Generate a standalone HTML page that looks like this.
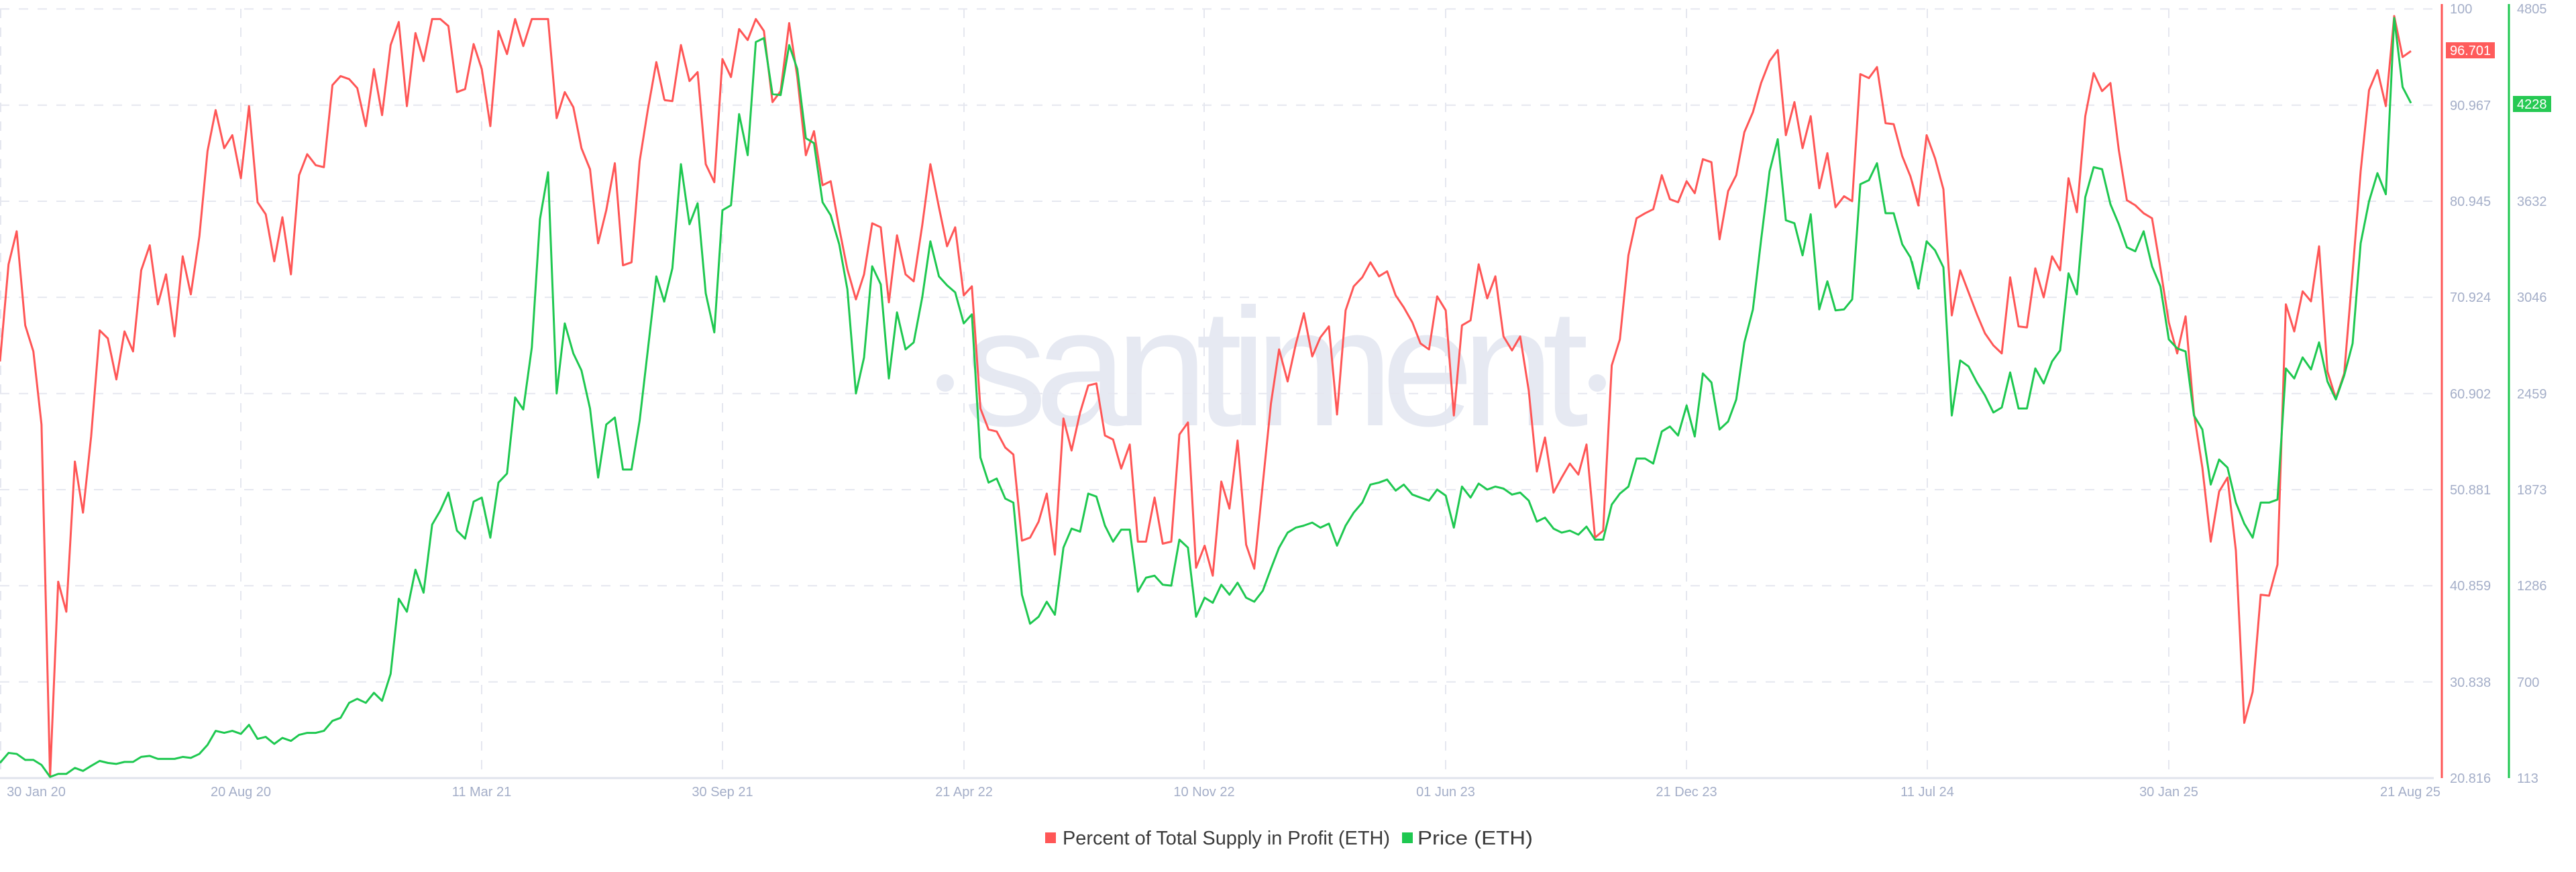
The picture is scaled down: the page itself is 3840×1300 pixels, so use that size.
<!DOCTYPE html>
<html><head><meta charset="utf-8"><style>
html,body{margin:0;padding:0;background:#fff;}
svg{display:block;}
text{font-family:"Liberation Sans",sans-serif;}
</style></head><body>
<svg width="3840" height="1300" viewBox="0 0 3840 1300" xmlns="http://www.w3.org/2000/svg">
<g fill="#e6e9f2">
<circle cx="1409" cy="571" r="13"/>
<text x="1437" y="634" font-size="250" letter-spacing="-18" textLength="913" lengthAdjust="spacingAndGlyphs">santiment</text>
<circle cx="2381" cy="571" r="13"/>
</g>
<g stroke="#e5e7ef" stroke-width="2" stroke-dasharray="14 14">
<line x1="0" y1="13.4" x2="3628" y2="13.4"/>
<line x1="0" y1="156.7" x2="3628" y2="156.7"/>
<line x1="0" y1="300" x2="3628" y2="300"/>
<line x1="0" y1="443.3" x2="3628" y2="443.3"/>
<line x1="0" y1="586.7" x2="3628" y2="586.7"/>
<line x1="0" y1="730" x2="3628" y2="730"/>
<line x1="0" y1="873.3" x2="3628" y2="873.3"/>
<line x1="0" y1="1016.6" x2="3628" y2="1016.6"/>
</g>
<g stroke="#e5e7ef" stroke-width="2" stroke-dasharray="14 14">
<line x1="1" y1="13" x2="1" y2="1160"/>
<line x1="359" y1="13" x2="359" y2="1160"/>
<line x1="718" y1="13" x2="718" y2="1160"/>
<line x1="1077" y1="13" x2="1077" y2="1160"/>
<line x1="1437" y1="13" x2="1437" y2="1160"/>
<line x1="1795" y1="13" x2="1795" y2="1160"/>
<line x1="2155" y1="13" x2="2155" y2="1160"/>
<line x1="2514" y1="13" x2="2514" y2="1160"/>
<line x1="2873" y1="13" x2="2873" y2="1160"/>
<line x1="3233" y1="13" x2="3233" y2="1160"/>
</g>
<line x1="0" y1="1160" x2="3628" y2="1160" stroke="#e0e3ec" stroke-width="3"/>
<g fill="none" stroke="#ff5656" stroke-width="3" stroke-linejoin="round">
<polyline vector-effect="non-scaling-stroke" transform="scale(0.6378,0.7463)" points="0,722 20,528 39,462 59,650 78,702 97,848 117,1552 136,1162 155,1222 175,922 194,1024 213,872 233,660 252,676 272,758 291,662 311,702 330,540 350,490 369,608 388,548 408,672 427,512 446,588 466,472 485,302 504,220 524,296 543,270 563,356 582,212 602,404 621,428 641,522 660,434 680,548 699,350 718,308 738,330 757,334 777,170 796,152 816,158 835,176 855,252 874,138 893,230 913,90 932,44 951,212 971,66 990,122 1010,38 1029,38 1048,52 1068,184 1087,178 1107,88 1126,138 1146,252 1165,62 1185,108 1204,38 1223,92 1243,38 1262,38 1281,38 1301,236 1320,184 1340,214 1359,296 1379,338 1398,486 1417,420 1437,326 1456,530 1476,524 1495,322 1514,220 1534,124 1553,200"/>
<polyline vector-effect="non-scaling-stroke" transform="translate(950,0) scale(0.6378,0.7463)" points="63,200 82,202 102,90 122,162 141,144 160,328 180,364 199,118 219,154 238,58 258,80 277,38 296,62 316,204 335,182 355,46 374,154 394,310 413,262 433,370 452,362 472,456 491,538 511,598 530,548 549,446 569,454 588,604 607,470 627,548 646,562 666,450 685,328 705,414 724,492 743,454 763,590 782,572 802,816 821,858 840,862 860,894 879,908 899,1080 918,1074 938,1042 957,986 976,1108 996,836 1015,900 1035,824 1054,770 1073,766 1093,870 1112,878 1131,936 1151,888 1170,1082 1189,1082 1209,994 1228,1086 1248,1082 1267,868 1287,844 1306,1134 1326,1090 1345,1150 1365,962 1384,1016 1403,880 1423,1088 1442,1136 1462,966 1481,806 1500,698 1520,762 1539,688 1558,626"/>
<polyline vector-effect="non-scaling-stroke" transform="translate(1900,0) scale(0.6378,0.7463)" points="68,624 88,712 107,674 127,652 146,828 166,620 185,572 205,554 224,524 244,552 263,542 283,590 302,614 322,644 341,686 361,698 380,592 400,620 419,830 438,650 458,640 477,528 497,596 516,552 535,672 555,700 574,672 594,780 613,942 632,874 652,984 671,954 690,926 710,948 729,888 749,1074 768,1060 788,730 807,678 827,510 846,436 866,426 885,418 905,350 924,398 943,404 963,362 982,386 1001,318 1021,324 1040,478 1060,382 1079,350 1098,264 1118,224 1137,166 1157,122 1176,100 1195,270 1215,204 1234,296 1253,232 1273,376 1292,306 1311,414 1331,392 1350,402 1369,148 1389,156 1408,134 1428,246 1447,248 1467,312 1486,352 1506,412"/>
<polyline vector-effect="non-scaling-stroke" transform="translate(2850,0) scale(0.5,0.7463)" points="0,362 19,410 44,270 69,316 94,378 119,630 144,540 169,584 194,628 218,666 243,690 268,706 293,554 318,652 343,654 368,536 393,594 418,512 442,540 467,356 492,424 517,232 542,146 567,182 592,166 617,300 641,400 666,410 691,426 716,436 741,536 766,644 791,706 816,632 841,826 866,934 891,1082 916,982 941,954 966,1100 991,1444 1016,1382 1040,1188 1065,1190 1090,1128 1115,608 1140,662 1165,582 1190,602 1214,492 1239,742 1264,796 1289,746 1314,544 1338,342 1363,180 1388,140 1413,212 1438,32 1463,114 1488,102"/>
</g>
<g fill="none" stroke="#1ec850" stroke-width="3" stroke-linejoin="round">
<polyline vector-effect="non-scaling-stroke" transform="scale(0.6378,0.7463)" points="0,1524 20,1504 39,1506 59,1518 78,1518 97,1528 117,1552 136,1546 155,1546 175,1534 194,1540 213,1530 233,1520 252,1524 272,1526 291,1522 311,1522 330,1512 350,1510 369,1516 388,1516 408,1516 427,1512 446,1514 466,1506 485,1488 504,1460 524,1464 543,1460 563,1466 582,1448 602,1476 621,1472 641,1486 660,1474 680,1480 699,1468 718,1464 738,1464 757,1460 777,1440 796,1434 816,1404 835,1396 855,1404 874,1384 893,1400 913,1346 932,1196 951,1222 971,1138 990,1184 1010,1048 1029,1020 1048,984 1068,1060 1087,1076 1107,1002 1126,994 1146,1074 1165,964 1185,946 1204,794 1223,818 1243,694 1262,438 1281,344 1301,786 1320,646 1340,706 1359,740 1379,816 1398,954 1417,848 1437,834 1456,938 1476,938 1495,840 1514,700 1534,552 1553,604"/>
<polyline vector-effect="non-scaling-stroke" transform="translate(950,0) scale(0.6378,0.7463)" points="63,602 82,536 102,328 122,448 141,406 160,586 180,664 199,420 219,410 238,228 258,310 277,84 296,76 316,188 335,190 355,90 374,138 394,276 413,286 433,404 452,430 472,488 491,578 511,786 530,714 549,532 569,568 588,756 607,624 627,698 646,684 666,594 685,482 705,552 724,570 743,584 763,646 782,628 802,914 821,964 840,956 860,996 879,1004 899,1188 918,1246 938,1232 957,1202 976,1228 996,1094 1015,1056 1035,1062 1054,986 1073,992 1093,1050 1112,1082 1131,1058 1151,1058 1170,1182 1189,1154 1209,1150 1228,1168 1248,1170 1267,1078 1287,1094 1306,1232 1326,1194 1345,1204 1365,1168 1384,1188 1403,1164 1423,1194 1442,1202 1462,1180 1481,1136 1500,1094 1520,1064 1539,1054 1558,1050"/>
<polyline vector-effect="non-scaling-stroke" transform="translate(1900,0) scale(0.6378,0.7463)" points="68,1050 88,1044 107,1054 127,1046 146,1090 166,1050 185,1024 205,1004 224,968 244,964 263,958 283,980 302,968 322,988 341,994 361,1000 380,978 400,990 419,1054 438,972 458,994 477,966 497,978 516,972 535,976 555,988 574,984 594,1000 613,1042 632,1034 652,1056 671,1064 690,1060 710,1068 729,1052 749,1078 768,1078 788,1008 807,986 827,972 846,916 866,916 885,926 905,862 924,852 943,870 963,810 982,872 1001,746 1021,764 1040,858 1060,842 1079,798 1098,684 1118,618 1137,480 1157,342 1176,278 1195,440 1215,446 1234,510 1253,428 1273,618 1292,562 1311,620 1331,618 1350,598 1369,368 1389,360 1408,326 1428,426 1447,426 1467,488 1486,514 1506,578"/>
<polyline vector-effect="non-scaling-stroke" transform="translate(2850,0) scale(0.5,0.7463)" points="0,522 19,576 44,482 69,500 94,534 119,830 144,720 169,732 194,764 218,790 243,824 268,814 293,744 318,816 343,816 368,736 393,766 418,722 442,700 467,546 492,588 517,394 542,334 567,338 592,408 617,448 641,494 666,502 691,462 716,532 741,572 766,678 791,696 816,702 841,830 866,858 891,968 916,918 941,934 966,1004 991,1046 1016,1074 1040,1004 1065,1004 1090,998 1115,736 1140,756 1165,714 1190,738 1214,684 1239,762 1264,798 1289,750 1314,686 1338,486 1363,402 1388,346 1413,388 1438,36 1463,174 1488,206"/>
</g>
<line x1="3640" y1="6" x2="3640" y2="1160" stroke="#ff5656" stroke-width="3"/>
<line x1="3740" y1="6" x2="3740" y2="1160" stroke="#1ec850" stroke-width="3"/>
<g fill="#a4aec8" font-size="20">
<text x="3652" y="20">100</text>
<text x="3652" y="164">90.967</text>
<text x="3652" y="307">80.945</text>
<text x="3652" y="450">70.924</text>
<text x="3652" y="594">60.902</text>
<text x="3652" y="737">50.881</text>
<text x="3652" y="880">40.859</text>
<text x="3652" y="1024">30.838</text>
<text x="3652" y="1167">20.816</text>
<text x="3752" y="20">4805</text>
<text x="3752" y="307">3632</text>
<text x="3752" y="450">3046</text>
<text x="3752" y="594">2459</text>
<text x="3752" y="737">1873</text>
<text x="3752" y="880">1286</text>
<text x="3752" y="1024">700</text>
<text x="3752" y="1167">113</text>
</g>
<rect x="3646" y="63" width="73" height="24" fill="#ff5b5b"/>
<text x="3652" y="82" font-size="20" fill="#fff">96.701</text>
<rect x="3746" y="143" width="57" height="24" fill="#26c953"/>
<text x="3752" y="162" font-size="20" fill="#fff">4228</text>
<g fill="#a4aec8" font-size="20" text-anchor="middle">
<text x="54" y="1187">30 Jan 20</text>
<text x="359" y="1187">20 Aug 20</text>
<text x="718" y="1187">11 Mar 21</text>
<text x="1077" y="1187">30 Sep 21</text>
<text x="1437" y="1187">21 Apr 22</text>
<text x="1795" y="1187">10 Nov 22</text>
<text x="2155" y="1187">01 Jun 23</text>
<text x="2514" y="1187">21 Dec 23</text>
<text x="2873" y="1187">11 Jul 24</text>
<text x="3233" y="1187">30 Jan 25</text>
<text x="3593" y="1187">21 Aug 25</text>
</g>
<rect x="1558" y="1241" width="16" height="16" fill="#ff5656"/>
<text x="1584" y="1259" font-size="29" fill="#3a3a3a" textLength="488" lengthAdjust="spacingAndGlyphs">Percent of Total Supply in Profit (ETH)</text>
<rect x="2090" y="1241" width="16" height="16" fill="#1ec850"/>
<text x="2113" y="1259" font-size="29" fill="#3a3a3a" textLength="172" lengthAdjust="spacingAndGlyphs">Price (ETH)</text>
</svg>
</body></html>
